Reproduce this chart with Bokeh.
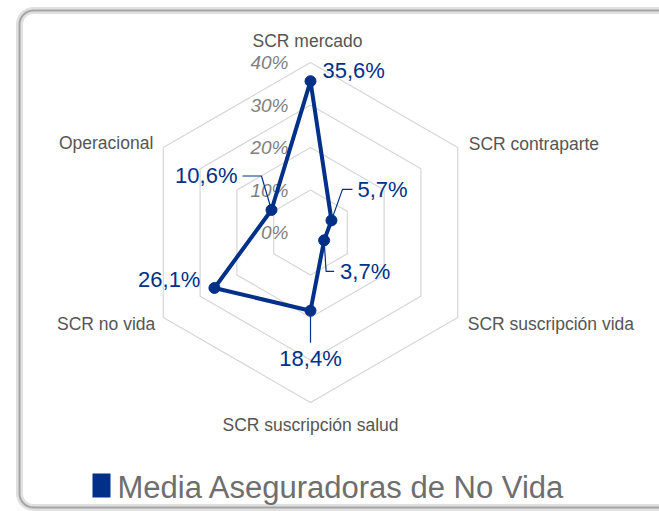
import numpy as np
from bokeh.plotting import figure
from bokeh.models import Range1d
from bokeh.core.properties import value
from bokeh.embed import file_html
from bokeh.resources import INLINE

# ---- data ----
categories = ["SCR mercado", "SCR contraparte", "SCR suscripción vida",
              "SCR suscripción salud", "SCR no vida", "Operacional"]
values = [35.6, 5.7, 3.7, 18.4, 26.1, 10.6]
value_labels = ["35,6%", "5,7%", "3,7%", "18,4%", "26,1%", "10,6%"]
ring_values = [10, 20, 30, 40]
tick_values = [0, 10, 20, 30, 40]
tick_labels = ["0%", "10%", "20%", "30%", "40%"]
series_name = "Media Aseguradoras de No Vida"

# ---- layout / style ----
BLUE = "#003087"
FONT = "Liberation Sans"
S = 4.25  # px per percent
W, H = 659, 511
CX, CY = 310, 232  # centre in canvas px
angles = np.deg2rad([90, 30, -30, -90, -150, 150])

p = figure(width=W, height=H, output_backend="svg", toolbar_location=None,
           x_range=Range1d(-CX / S, (W - CX) / S),
           y_range=Range1d(-(H - CY) / S, CY / S),
           min_border=0, outline_line_color=None,
           background_fill_color="white", border_fill_color="white")
p.axis.visible = False
p.grid.visible = False

def d(px):
    return px / S

# frame: rounded box open to the right (runs past the canvas edge)
def frame_path(left, top, bottom, right, rad, n=12):
    xs, ys = [right, left + rad], [top, top]
    t = np.linspace(np.pi / 2, np.pi, n)
    xs += list(left + rad + rad * np.cos(t)); ys += list(top - rad + rad * np.sin(t))
    t = np.linspace(np.pi, 1.5 * np.pi, n)
    xs += list(left + rad + rad * np.cos(t)); ys += list(bottom + rad + rad * np.sin(t))
    xs += [right]; ys += [bottom]
    return xs, ys

fxs, fys = frame_path(d(19 - CX), d(CY - 10), d(CY - 507), d(W + 80 - CX), d(14))
p.line(fxs, fys, line_color="#e0e0e0", line_width=7)
p.line(fxs, fys, line_color="#a5a5a5", line_width=2)

# grid hexagons
for r in ring_values:
    xs = list(r * np.cos(angles)) + [r * np.cos(angles[0])]
    ys = list(r * np.sin(angles)) + [r * np.sin(angles[0])]
    p.line(xs, ys, line_color="#d6d6d6", line_width=1.2)

# tick labels
p.text(x=[d(-22)] * len(tick_values), y=tick_values, text=tick_labels,
       text_align="right", text_baseline="middle", text_font=value(FONT),
       text_font_size="19px", text_font_style="italic", text_color="#7f7f7f")

# category labels
outer = max(ring_values)
cat_off = [(-3, -22, "center"), (11, -4, "left"), (10, 6, "left"),
           (0, 22, "center"), (-8, 6, "right"), (-10, -5, "right")]
for c, a, (ox, oy, al) in zip(categories, angles, cat_off):
    p.text(x=[outer * np.cos(a) + d(ox)], y=[outer * np.sin(a) - d(oy)], text=[c],
           text_align=al, text_baseline="middle", text_font=value(FONT),
           text_font_size="17.5px", text_color="#555555")

# series
vx = [v * np.cos(a) for v, a in zip(values, angles)]
vy = [v * np.sin(a) for v, a in zip(values, angles)]
p.line(vx + [vx[0]], vy + [vy[0]], line_color=BLUE, line_width=4, line_join="round")
p.scatter(vx, vy, size=11, fill_color=BLUE, line_color=BLUE)

# value labels with leader lines (offsets in px from the point)
leaders = [
    [],
    [(11, -31), (21, -31)],
    [(2, 31), (10, 31)],
    [(0, 32)],
    [],
    [(-10, -34), (-29, -34)],
]
lab_off = [(12, -11, "left"), (26, -31, "left"), (16, 31, "left"),
           (0, 48, "center"), (-14, -8, "right"), (-34, -34, "right")]
for x0, y0, lead, (ox, oy, al), t in zip(vx, vy, leaders, lab_off, value_labels):
    if lead:
        lx = [x0] + [x0 + d(a) for a, b in lead]
        ly = [y0] + [y0 - d(b) for a, b in lead]
        p.line(lx, ly, line_color=BLUE, line_width=1.2)
    p.text(x=[x0 + d(ox)], y=[y0 - d(oy)], text=[t], text_align=al,
           text_baseline="middle", text_font=value(FONT), text_font_size="22px",
           text_color=BLUE)

# legend
p.rect(x=[d(101 - CX)], y=[d(CY - 485)], width=18, height=24, width_units="screen",
       height_units="screen", fill_color=BLUE, line_color=None)
p.text(x=[d(117 - CX)], y=[d(CY - 487)], text=[series_name],
       text_align="left", text_baseline="middle", text_font=value(FONT),
       text_font_size="31px", text_color="#6e6e6e")

open("out.html", "w").write(file_html(p, INLINE))
